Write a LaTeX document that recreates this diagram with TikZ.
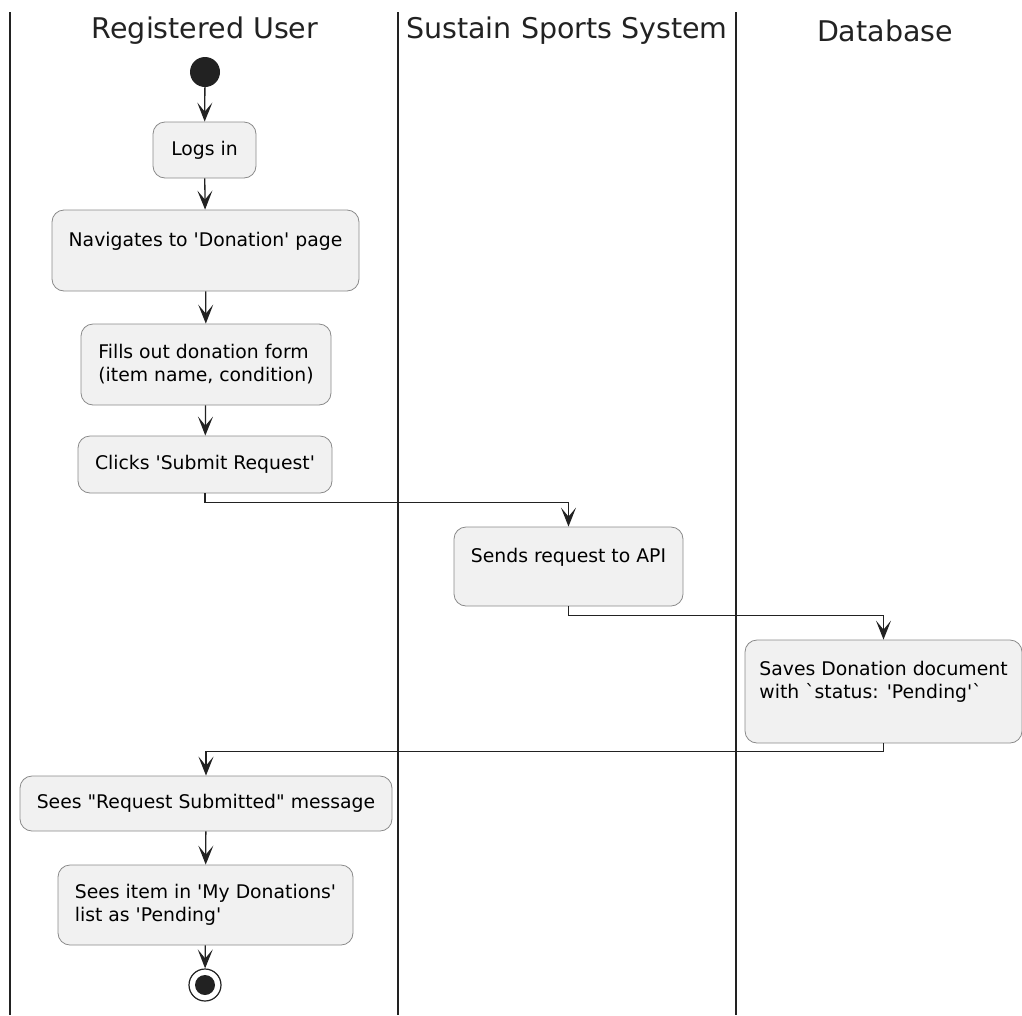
\documentclass[tikz,border=0pt]{standalone}
\usepackage{fontspec}
\setmainfont{DejaVu Sans}[Ligatures=TeXOff]
\usetikzlibrary{arrows.meta}
\definecolor{actborder}{HTML}{8A8A8A}
\definecolor{actfill}{HTML}{F1F1F1}
\definecolor{ink}{HTML}{222222}
\begin{document}
\begin{tikzpicture}[x=1pt,y=-1pt,
  act/.style={draw=actborder, fill=actfill, rounded corners=12pt, align=left,
    font=\fontsize{18.8}{23}\selectfont, inner sep=0pt, line width=0.8pt},
  flow/.style={draw=ink, line width=1.3pt,
    -{Stealth[length=19pt,width=15pt,inset=9pt]}},
  lane/.style={draw=ink, line width=1.6pt},
  lanetitle/.style={font=\fontsize{28.5}{32}\selectfont, text=ink}]
\useasboundingbox (0,0) rectangle (1022,1015);

% swimlane separators
\draw[lane] (10,12) -- (10,1015);
\draw[lane] (398,12) -- (398,1015);
\draw[lane] (736,12) -- (736,1015);

% lane titles
\node[lanetitle] (t1) at (205,31) {Registered User};
\node[lanetitle] (t2) at (567,31) {Sustain Sports System};
\node[lanetitle] (t3) at (885,31) {Database};

% start / end
\node[circle, fill=ink, minimum size=30pt, inner sep=0pt] (start) at (205,72) {};
\node[circle, draw=ink, line width=1.2pt, fill=white, minimum size=32pt, inner sep=0pt] (stop) at (205,985) {};
\node[circle, fill=ink, minimum size=20pt, inner sep=0pt] (stopdot) at (205,985) {};

% activities (a trailing empty line leaves room under the text)
\node[act, minimum width=103pt, minimum height=56pt] (login) at (204.5,150) {Logs in};
\node[act, minimum width=307pt, minimum height=81pt] (nav) at (205.5,250.5) {Navigates to 'Donation' page\\\mbox{}};
\node[act, minimum width=250pt, minimum height=81pt] (form) at (206,364.5) {Fills out donation form\\(item name, condition)};
\node[act, minimum width=254pt, minimum height=57pt] (submit) at (205,464.5) {Clicks 'Submit Request'};
\node[act, minimum width=229pt, minimum height=79pt] (api) at (568.5,566.5) {Sends request to API\\\mbox{}};
\node[act, minimum width=277pt, minimum height=103pt] (save) at (883.5,691.5) {Saves Donation document\\with `status: 'Pending'`\\\mbox{}};
\node[act, minimum width=372pt, minimum height=55pt] (seen) at (206,803.5) {Sees "Request Submitted" message};
\node[act, minimum width=295pt, minimum height=80pt] (list) at (205.5,905) {Sees item in 'My Donations'\\list as 'Pending'};

% flow
\draw[flow] (start) -- (login);
\draw[flow] (login) -- (nav);
\draw[flow] (nav) -- (form);
\draw[flow] (form) -- (submit);
\draw[flow] (submit.south) -- ++(0,9) -| (api.north);
\draw[flow] (api.south) -- ++(0,9) -| (save.north);
\draw[flow] (save.south) -- ++(0,8) -| (seen.north);
\draw[flow] (seen) -- (list);
\draw[flow] (list) -- (stop);
\end{tikzpicture}
\end{document}
